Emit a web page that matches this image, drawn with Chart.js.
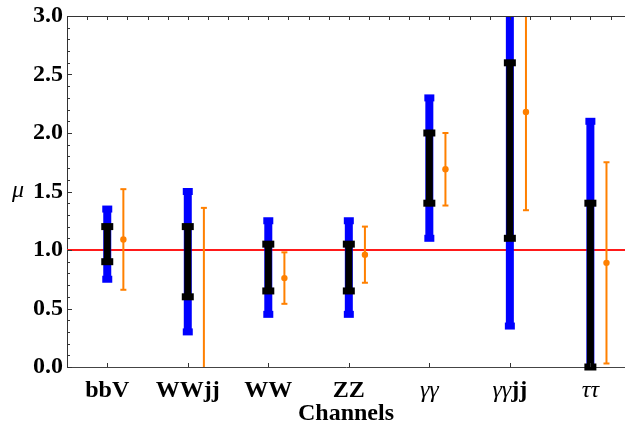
<!DOCTYPE html>
<html>
<head>
<meta charset="utf-8">
<script src="https://cdn.jsdelivr.net/npm/chart.js@4.4.1/dist/chart.umd.min.js"></script>
<style>
  html, body { margin: 0; padding: 0; background: #fff; overflow: hidden; }
</style>
</head>
<body>
<canvas id="chart" width="625" height="432"></canvas>
<script>
// signal strengths per channel: wide (blue) and narrow (black) bands, plus the orange fit with its error
const channels   = ['bbV', 'WWjj', 'WW', 'ZZ', 'γγ', 'γγjj', 'ττ']
const blueLow    = [0.75, 0.30, 0.45, 0.45, 1.10, 0.35, -0.30]
const blueHigh   = [1.35, 1.50, 1.25, 1.25, 2.30, 3.30, 2.10]
const blackLow   = [0.90, 0.60, 0.65, 0.65, 1.40, 1.10, 0.00]
const blackHigh  = [1.20, 1.20, 1.05, 1.05, 2.00, 2.60, 1.40]
const orangeLow  = [0.66, -1.30, 0.54, 0.72, 1.38, 1.34, 0.03]
const orangeMid  = [1.09, -0.15, 0.76, 0.96, 1.69, 2.18, 0.89]
const orangeHigh = [1.52, 1.36, 0.98, 1.20, 2.00, 3.10, 1.75]
const smLine     = 1.0
const yTicks     = [0, 0.5, 1, 1.5, 2, 2.5, 3]

const SERIF = '"Liberation Serif", "Times New Roman", serif'
const X_MIN = 0.5, X_MAX = 7.43
const ORANGE_SHIFT = 0.2

// two points per channel, null in between so each band is its own segment
function bands(lo, hi, dx) {
  return lo.flatMap((v, i) => [
    { x: i + 1 + dx, y: v },
    { x: i + 1 + dx, y: hi[i] },
    { x: i + 1 + dx, y: null },
  ])
}

function bandSet(lo, hi, dx, color, width, capHalf, capThick, order, clip) {
  return {
    type: 'line',
    data: bands(lo, hi, dx),
    borderColor: color,
    borderWidth: width,
    borderCapStyle: 'butt',
    spanGaps: false,
    pointStyle: 'line',
    pointRadius: capHalf,
    pointBorderWidth: capThick,
    pointBorderColor: color,
    pointBackgroundColor: color,
    order,
    clip,
  }
}

const frame = {
  id: 'frame',
  afterDraw(chart) {
    const { ctx, chartArea: a, scales: { x, y } } = chart
    ctx.save()
    ctx.strokeStyle = '#333'
    ctx.lineWidth = 1
    ctx.beginPath()
    ctx.moveTo(a.left, a.top + 0.5); ctx.lineTo(a.right, a.top + 0.5)
    for (let k = 0; k <= 30; k++) {
      const py = Math.round(y.getPixelForValue(k / 10)) + 0.5
      const len = k % 5 === 0 ? 5 : 3
      ctx.moveTo(a.left, py); ctx.lineTo(a.left + len, py)
    }
    for (let k = 0; k * 0.25 + X_MIN <= X_MAX; k++) {
      const px = Math.round(x.getPixelForValue(X_MIN + k * 0.25)) + 0.5
      ctx.moveTo(px, a.top); ctx.lineTo(px, a.top + 4)
    }
    channels.forEach((_, i) => {
      const px = Math.round(x.getPixelForValue(i + 1)) + 0.5
      ctx.moveTo(px, a.bottom); ctx.lineTo(px, a.bottom - 4)
    })
    ctx.stroke()

    // channel names: greek letters italic, latin bold
    ctx.fillStyle = '#000'
    ctx.textBaseline = 'alphabetic'
    ctx.textAlign = 'left'
    channels.forEach((name, i) => {
      const parts = name.match(/[\u0370-\u03ff]+|[^\u0370-\u03ff]+/g).map(t => ({
        t, font: /[\u0370-\u03ff]/.test(t) ? `italic 24px ${SERIF}` : `bold 24px ${SERIF}`,
      }))
      let w = 0
      parts.forEach(p => { ctx.font = p.font; p.w = ctx.measureText(p.t).width; w += p.w })
      let px = x.getPixelForValue(i + 1) - w / 2
      parts.forEach(p => { ctx.font = p.font; ctx.fillText(p.t, px, 397); px += p.w })
    })

    ctx.font = `italic 24px ${SERIF}`
    ctx.fillText('μ', 12, 197)
    ctx.restore()
  },
}

new Chart(document.getElementById('chart'), {
  type: 'line',
  data: {
    datasets: [
      {
        data: [{ x: X_MIN, y: smLine }, { x: X_MAX, y: smLine }],
        borderColor: '#ff1a1a',
        borderWidth: 2,
        pointRadius: 0,
        order: 5,
        clip: 0,
      },
      bandSet(blueLow, blueHigh, 0, '#0000ff', 8, 5, 7, 4, 0),
      bandSet(blackLow, blackHigh, 0, '#000000', 7, 6, 7, 3, { left: 0, top: 0, right: 0, bottom: 4 }),
      bandSet(orangeLow, orangeHigh, ORANGE_SHIFT, '#ff8000', 2, 3, 2, 2, 0),
      {
        data: orangeMid.map((v, i) => ({ x: i + 1 + ORANGE_SHIFT, y: v })),
        showLine: false,
        pointStyle: 'circle',
        pointRadius: 3.2,
        pointBorderWidth: 0,
        pointBackgroundColor: '#ff8000',
        order: 1,
        clip: 0,
      },
    ],
  },
  options: {
    responsive: false,
    animation: false,
    devicePixelRatio: 1,
    layout: { autoPadding: false, padding: { top: 14, right: 0, bottom: 0, left: 0 } },
    plugins: { legend: { display: false }, tooltip: { enabled: false } },
    scales: {
      x: {
        type: 'linear',
        min: X_MIN,
        max: X_MAX,
        ticks: { display: false },
        grid: { drawOnChartArea: false, drawTicks: false },
        border: { display: true, color: '#444', width: 1 },
        title: {
          display: true,
          text: 'Channels',
          color: '#000',
          font: { family: SERIF, size: 24, weight: 'bold', lineHeight: 1.2 },
          padding: { top: 0, bottom: 4 },
        },
        afterFit: s => { s.height = 65 },
      },
      y: {
        type: 'linear',
        min: 0,
        max: 3,
        afterBuildTicks: s => { s.ticks = yTicks.map(v => ({ value: v })) },
        ticks: {
          padding: 4,
          color: '#000',
          font: { family: SERIF, size: 24, weight: 'bold', lineHeight: 1 },
          callback: v => v.toFixed(1),
        },
        grid: { drawOnChartArea: false, drawTicks: false },
        border: { display: true, color: '#333', width: 1 },
        afterFit: s => { s.width = 67 },
      },
    },
  },
  plugins: [frame],
})
</script>
</body>
</html>
